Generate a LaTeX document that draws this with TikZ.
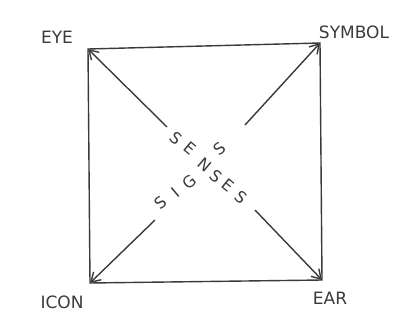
\documentclass[tikz,border=0pt]{standalone}
\usepackage{fontspec}
\setsansfont{DejaVu Sans}
\usetikzlibrary{arrows.meta}

\definecolor{ink}{HTML}{3A3A3A}

\tikzset{
  hand/.style={draw=ink, line width=1.4pt},
  ray/.style={hand, -{Straight Barb[length=9pt,width=11pt]}},
  corner label/.style={font=\sffamily\fontsize{17}{19}\selectfont, text=ink},
  letter/.style={font=\sffamily\fontsize{16}{18}\selectfont, text=ink, inner sep=0pt},
}

\begin{document}
\begin{tikzpicture}[x=1pt,y=-1pt]
\useasboundingbox (0,0) rectangle (406,326);

% corners of the square
\coordinate (eye) at (88,49);
\coordinate (symbol) at (320,43);
\coordinate (ear) at (322,280);
\coordinate (icon) at (90,283);

\draw[hand] (eye) -- (symbol) -- (ear) -- (icon) -- cycle;

% arrows from the middle out to the corners
\coordinate (eyestart) at (167,127);
\coordinate (symbolstart) at (245,125);
\coordinate (earstart) at (255,210);
\coordinate (iconstart) at (155,220);

\draw[ray] (eyestart) -- (eye);
\draw[ray] (symbolstart) -- (symbol);
\draw[ray] (earstart) -- (ear);
\draw[ray] (iconstart) -- (icon);

% corner labels
\node[corner label] (eyelbl) at (57,37) {EYE};
\node[corner label] (symbollbl) at (354,32) {SYMBOL};
\node[corner label] (earlbl) at (330,298) {EAR};
\node[corner label] (iconlbl) at (62,302) {ICON};

% the two crossing words, one letter at a time (they share the N)
\foreach \ch/\px/\py [count=\i] in {S/176/138, E/190/148, N/205/165, S/216/176, E/228/185, S/241/197}
  \node[letter, rotate=-40] (senses\i) at (\px,\py) {\ch};
\foreach \ch/\px/\py [count=\i] in {S/161/203, I/176/193, G/190/182, S/220/149}
  \node[letter, rotate=40] (signs\i) at (\px,\py) {\ch};

\end{tikzpicture}
\end{document}
